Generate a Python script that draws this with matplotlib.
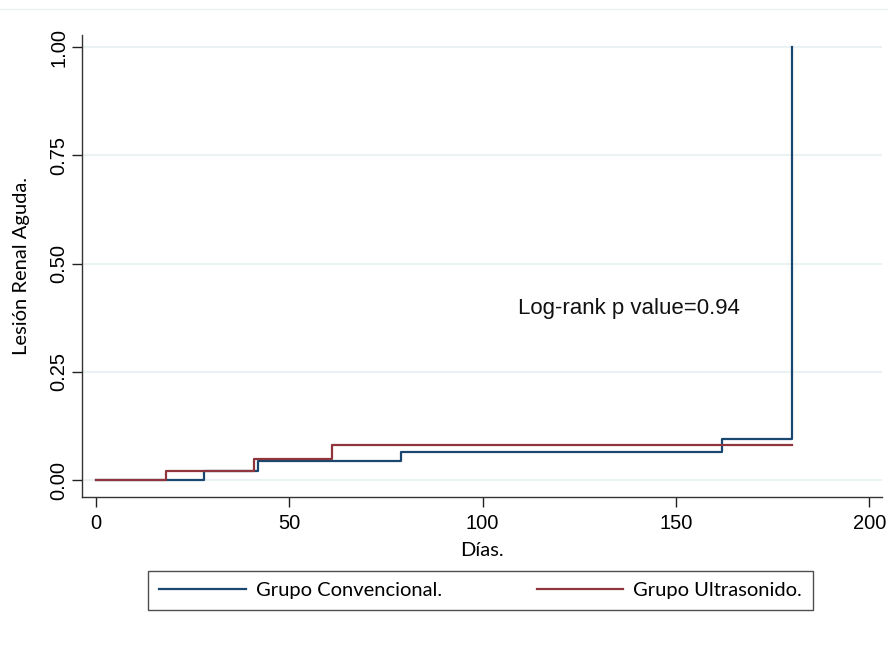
import matplotlib.pyplot as plt
from matplotlib.lines import Line2D

# Kaplan-Meier style failure curves
dias_conv = [0, 28, 42, 79, 162, 180]
lra_conv = [0.0, 0.022, 0.043, 0.065, 0.095, 1.0]

dias_ultra = [0, 18, 41, 61, 180]
lra_ultra = [0.0, 0.022, 0.048, 0.080, 0.080]

y_ticks = [0.0, 0.25, 0.5, 0.75, 1.0]
y_labels = ["0.00", "0.25", "0.50", "0.75", "1.00"]
x_ticks = [0, 50, 100, 150, 200]

azul = "#1a476f"
rojo = "#90353b"
grid_col = "#eaf2f3"

fig = plt.figure(figsize=(8.88, 6.71), dpi=100)
ax = fig.add_axes([82 / 888, 1 - 497 / 671, 800 / 888, 462 / 671])

ax.set_xlim(-3.6, 203.3)
ax.set_ylim(-0.039, 1.028)

ax.set_yticks(y_ticks)
ax.set_yticklabels(y_labels, rotation=90, va="center",
                   fontfamily="Liberation Sans", fontsize=14.5)
ax.set_xticks(x_ticks)
ax.set_xticklabels([str(t) for t in x_ticks],
                   fontfamily="Liberation Sans", fontsize=14.5)
ax.tick_params(axis="both", length=7, width=1, color="#222222")
ax.tick_params(axis="y", pad=3)
ax.tick_params(axis="x", pad=5)

ax.grid(axis="y", color=grid_col, linewidth=1.5)
ax.set_axisbelow(True)
for s in ["top", "right"]:
    ax.spines[s].set_visible(False)
for s in ["left", "bottom"]:
    ax.spines[s].set_color("#333333")
    ax.spines[s].set_linewidth(1)

ax.step(dias_conv, lra_conv, where="post", color=azul, linewidth=1.6,
        label="Grupo Convencional.")
ax.step(dias_ultra, lra_ultra, where="post", color=rojo, linewidth=1.6,
        label="Grupo Ultrasonido.")

ax.text(109.2, 0.397, "Log-rank p value=0.94", fontfamily="Liberation Sans",
        fontsize=16, va="center", ha="left", color="#111111")

ax.set_xlabel("Días.", fontfamily="Lato", fontsize=14.5, labelpad=7)
ax.set_ylabel("Lesión Renal Aguda.", fontfamily="Lato", fontsize=14.5,
              labelpad=14)

leg = ax.legend(loc="lower left",
                bbox_to_anchor=(148 / 888, 1 - 610 / 671, 665 / 888, 38 / 671),
                bbox_transform=fig.transFigure, mode="expand", ncol=2,
                prop={"family": "Lato", "size": 14.5}, handlelength=4.3,
                handletextpad=0.5, borderaxespad=0, borderpad=0.55,
                fancybox=False, frameon=True, columnspacing=3)
leg.get_frame().set_edgecolor("#222222")
leg.get_frame().set_linewidth(1)

# faint line across the top of the picture
fig.add_artist(Line2D([0, 1], [1 - 9 / 671, 1 - 9 / 671], color=grid_col,
                      linewidth=1, transform=fig.transFigure))

fig.savefig("out.png", dpi=100)
